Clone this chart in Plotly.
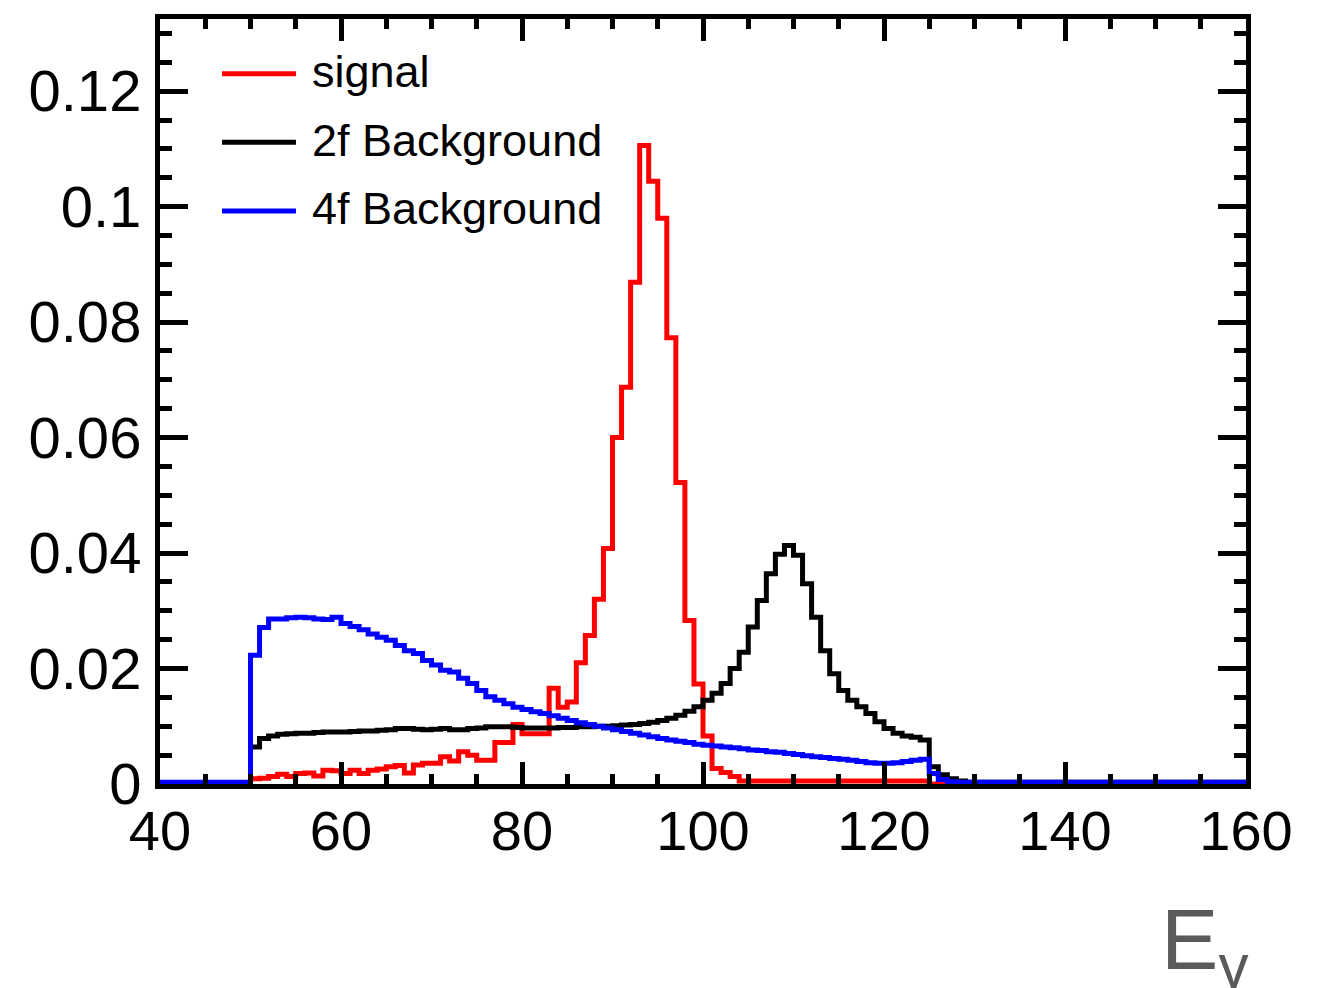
import plotly.graph_objects as go

# Bin edges (GeV), 1 GeV bins from 40 to 160
bin_lo = 40
bin_hi = 160

signal = (
    [0.0] * 10 +
    [0.0009, 0.0010, 0.0013, 0.0017, 0.0013, 0.0018, 0.0019, 0.0014, 0.0024, 0.0023,
     0.0018, 0.0024, 0.0018, 0.0024, 0.0026, 0.0030, 0.0032, 0.0019, 0.0033, 0.0036,
     0.0036, 0.0047, 0.0040, 0.0056, 0.0050, 0.0041, 0.0041, 0.0072, 0.0072, 0.0103,
     0.0087, 0.0087, 0.0087, 0.0166, 0.0133, 0.0142, 0.0210, 0.0257, 0.0320, 0.0408,
     0.0600, 0.0687, 0.0869, 0.1106, 0.1044, 0.0980, 0.0773, 0.0522, 0.0283, 0.0173,
     0.0083, 0.0027, 0.0020, 0.0013] +
    [0.0005] * 21 +
    [0.0] * 35
)

bkg_2f = (
    [0.0] * 10 +
    [0.0064, 0.0079, 0.0083, 0.0086, 0.0087, 0.0088, 0.0088, 0.0089, 0.0090, 0.0090,
     0.0090, 0.0091, 0.0092, 0.0092, 0.0093, 0.0094, 0.0096, 0.0096, 0.0095, 0.0094,
     0.0095, 0.0096, 0.0094, 0.0094, 0.0096, 0.0097, 0.0099, 0.0099, 0.0099, 0.0098,
     0.0097, 0.0097, 0.0097, 0.0097, 0.0098, 0.0098, 0.0099, 0.0099, 0.0100, 0.0100,
     0.0101, 0.0102, 0.0103, 0.0105, 0.0107, 0.0110, 0.0114, 0.0119, 0.0126, 0.0134,
     0.0145, 0.0157, 0.0174, 0.0200, 0.0228, 0.0272, 0.0318, 0.0364, 0.0398, 0.0413,
     0.0396, 0.0347, 0.0289, 0.0231, 0.0191, 0.0162, 0.0145, 0.0134, 0.0122, 0.0108,
     0.0096, 0.0088, 0.0083, 0.0081, 0.0076, 0.0030, 0.0016, 0.0009, 0.0005] +
    [0.0003] * 31
)

bkg_4f = (
    [0.0003] * 10 +
    [0.0223, 0.0271, 0.0286, 0.0286, 0.0288, 0.0289, 0.0288, 0.0286, 0.0285, 0.0289,
     0.0278, 0.0273, 0.0267, 0.0260, 0.0254, 0.0249, 0.0240, 0.0231, 0.0226, 0.0214,
     0.0206, 0.0197, 0.0194, 0.0183, 0.0174, 0.0162, 0.0151, 0.0145, 0.0139, 0.0133,
     0.0129, 0.0125, 0.0122, 0.0118, 0.0114, 0.0110, 0.0106, 0.0103, 0.0100, 0.0097,
     0.0094, 0.0091, 0.0088, 0.0085, 0.0082, 0.0079, 0.0076, 0.0074, 0.0072, 0.0069,
     0.0067, 0.0066, 0.0064, 0.0063, 0.0061, 0.0059, 0.0058, 0.0056, 0.0055, 0.0053,
     0.0051, 0.0049, 0.0047, 0.0046, 0.0044, 0.0043, 0.0041, 0.0039, 0.0037, 0.0036,
     0.0036, 0.0037, 0.0039, 0.0041, 0.0043, 0.0018, 0.0008, 0.0004] +
    [0.0003] * 32
)

series_names = ["signal", "2f Background", "4f Background"]
series_colors = ["#ff0000", "#000000", "#0000ff"]
series_values = [signal, bkg_2f, bkg_4f]

x_ticks = [40, 60, 80, 100, 120, 140, 160]
y_ticks = [0, 0.02, 0.04, 0.06, 0.08, 0.1, 0.12]
y_tick_text = ["0", "0.02", "0.04", "0.06", "0.08", "0.1", "0.12"]

edges = list(range(bin_lo, bin_hi + 1))

FONT = "Liberation Sans, Arial, Helvetica, sans-serif"

fig = go.Figure()
for name, color, vals in zip(series_names, series_colors, series_values):
    fig.add_trace(go.Scatter(
        x=edges,
        y=list(vals) + [vals[-1]],
        mode="lines",
        line=dict(color=color, width=5, shape="hv"),
        name=name,
        showlegend=False,
    ))

# Manual legend (long line samples as in the original)
leg_y = [0.9285, 0.8388, 0.749]
for name, color, yy in zip(series_names, series_colors, leg_y):
    fig.add_shape(type="line", xref="paper", yref="paper",
                  x0=0.0571, x1=0.1252, y0=yy, y1=yy,
                  line=dict(color=color, width=5))
    fig.add_annotation(text=name, xref="paper", yref="paper",
                       x=0.138, y=yy + 0.003, xanchor="left", yanchor="middle",
                       showarrow=False, font=dict(family=FONT, size=45, color="black"))

fig.add_annotation(text="E<sub>γ</sub>", xref="paper", yref="paper",
                   x=1.004, y=-0.137, xanchor="right", yanchor="top",
                   showarrow=False, font=dict(family=FONT, size=86, color="#5a5a5a"))

axis_common = dict(
    showline=True, linecolor="black", linewidth=5, mirror="ticks",
    ticks="inside", tickcolor="black", tickwidth=5,
    showgrid=False, zeroline=False,
)

fig.update_xaxes(range=[bin_lo, bin_hi], tickvals=x_ticks, ticklen=22,
                 minor=dict(dtick=5, ticklen=10, ticks="inside", tickwidth=5, tickcolor="black"),
                 ticklabelstandoff=-6,
                 tickfont=dict(family=FONT, size=56, color="black"),
                 **axis_common)
fig.update_yaxes(range=[0, 0.1325], tickvals=y_ticks, ticktext=y_tick_text, ticklen=28,
                 minor=dict(dtick=0.005, ticklen=12, ticks="inside", tickwidth=5, tickcolor="black"),
                 ticklabelstandoff=2,
                 tickfont=dict(family=FONT, size=58, color="black"),
                 **axis_common)

# The page body adds an 8 px margin, so the figure is 8 px smaller on each axis
fig.update_layout(
    width=1311, height=980,
    margin=dict(l=152, r=73, t=6, b=204),
    plot_bgcolor="white", paper_bgcolor="white",
    showlegend=False,
)

fig.write_html("out.html")
